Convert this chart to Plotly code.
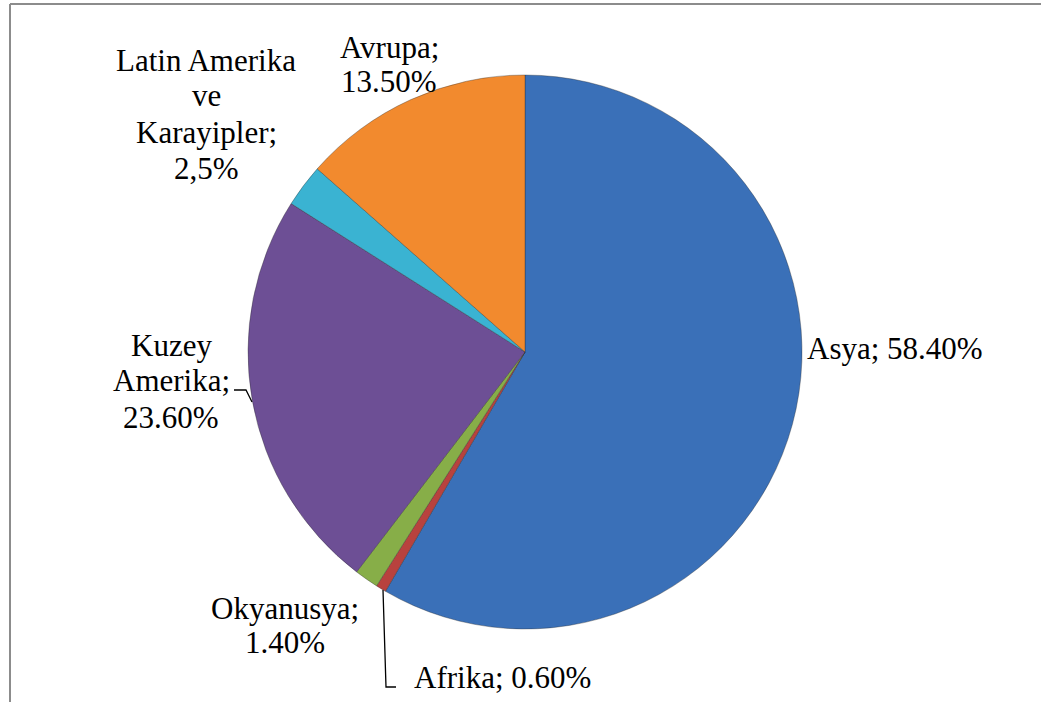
import plotly.graph_objects as go

regions = ["Asya", "Afrika", "Okyanusya", "Kuzey Amerika", "Latin Amerika ve Karayipler", "Avrupa"]
shares = [58.4, 0.6, 1.4, 23.6, 2.5, 13.5]
label_lines = [["Asya; 58.40%"], ["Afrika; 0.60%"], ["Okyanusya;", "1.40%"],
               ["Kuzey", "Amerika;", "23.60%"], ["Latin Amerika", "ve", "Karayipler;", "2,5%"],
               ["Avrupa;", "13.50%"]]
colors = ["#3A70B8", "#B8423E", "#87AE48", "#6D4F95", "#3AB3D2", "#F28A2E"]

W, H = 1041, 702
cx, cy, r = 525, 352, 277

fig = go.Figure(go.Pie(
    labels=regions, values=shares, sort=False, direction="clockwise", rotation=0,
    marker=dict(colors=colors, line=dict(color="rgba(40,40,40,0.35)", width=1)),
    textinfo="none", hoverinfo="label+percent", showlegend=False,
    domain=dict(x=[(cx - r) / W, (cx + r) / W], y=[(H - cy - r) / H, (H - cy + r) / H]),
))

font = dict(family="Liberation Serif", size=31, color="#000")
# label layout in pixels: x, first-line centre y, line step, xanchor
pos = [(805, 349, 35, "left"), (412, 677, 35, "left"), (285, 608, 34, "center"),
       (171, 345, 36, "center"), (206, 60, 36, "center"), (389, 47, 35, "center")]
for lines, (x, y0, step, xa) in zip(label_lines, pos):
    for i, t in enumerate(lines):
        fig.add_annotation(x=x / W, y=1 - (y0 + i * step) / H, xref="paper", yref="paper",
                           text=t, showarrow=False, xanchor=xa, yanchor="middle",
                           align="center", font=font)

def px(x, y):
    return x / W, 1 - y / H

line = dict(color="#000", width=1.3)
fig.add_shape(type="path", xref="paper", yref="paper",
              path="M {} {} L {} {} L {} {}".format(*px(383, 590), *px(386, 687), *px(396, 687)),
              line=line)
fig.add_shape(type="path", xref="paper", yref="paper",
              path="M {} {} L {} {} L {} {}".format(*px(234, 390), *px(246, 390), *px(252, 402)),
              line=line)
frame = dict(color="#8C8C8C", width=2)
fig.add_shape(type="line", xref="paper", yref="paper", x0=10 / W, x1=1, y0=1 - 4 / H, y1=1 - 4 / H, line=frame)
fig.add_shape(type="line", xref="paper", yref="paper", x0=10 / W, x1=10 / W, y0=0, y1=1 - 4 / H, line=frame)

fig.update_layout(width=W, height=H, margin=dict(l=0, r=0, t=0, b=0),
                  paper_bgcolor="white", plot_bgcolor="white")
fig.write_html("out.html")
